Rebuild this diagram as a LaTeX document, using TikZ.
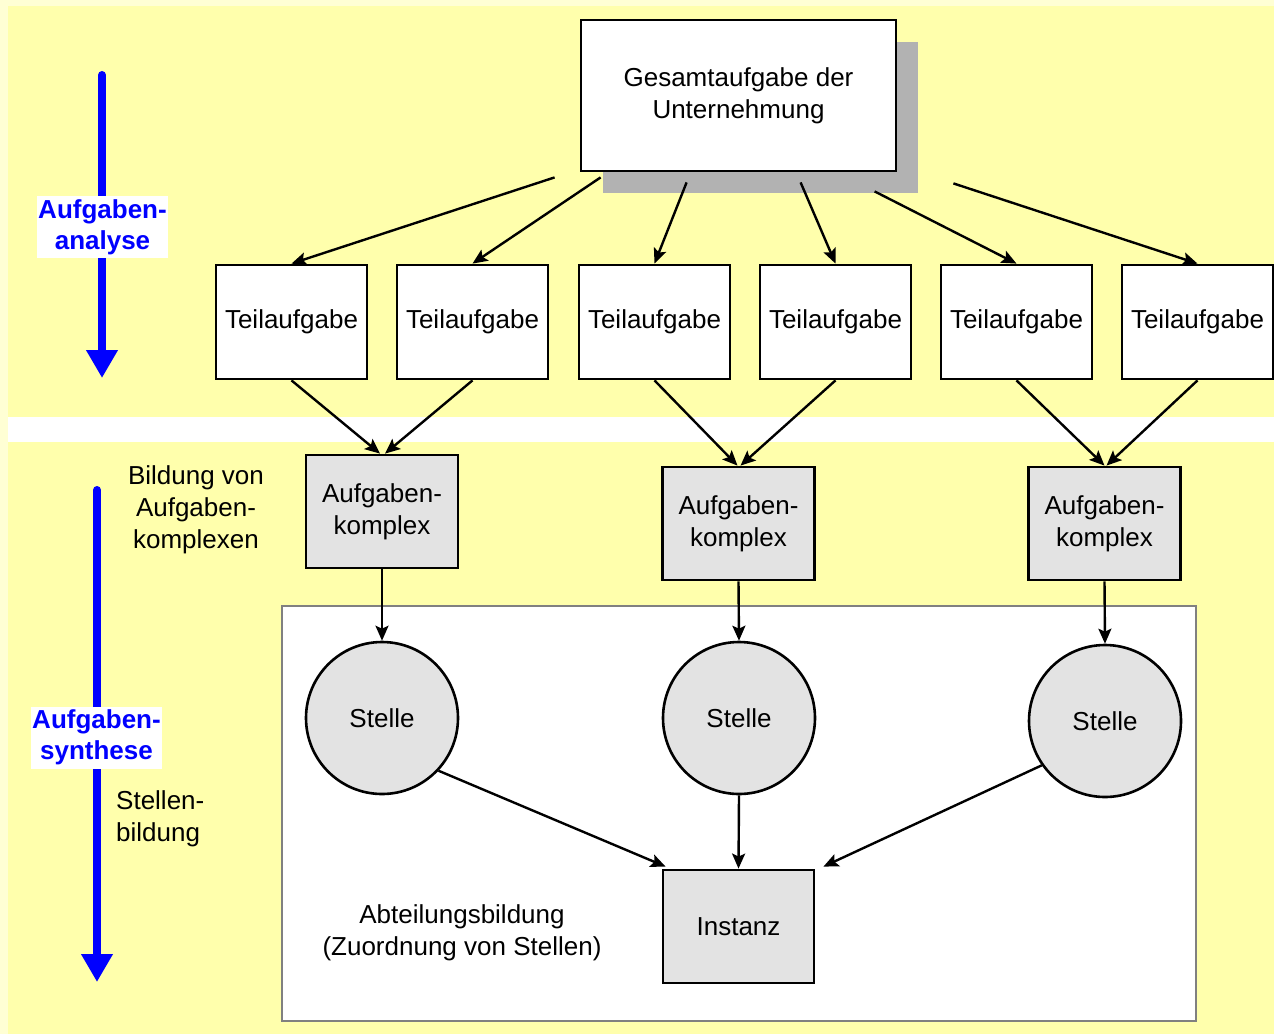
\documentclass[tikz,border=0pt]{standalone}
\usepackage{fontspec}
\setmainfont{Liberation Sans}
\usetikzlibrary{arrows.meta,calc,shadows}
\definecolor{paleyel}{RGB}{255,255,212}
\definecolor{bandyel}{RGB}{255,255,172}
\definecolor{boxgray}{RGB}{227,227,227}
\definecolor{shadowgray}{RGB}{178,178,178}
\definecolor{framegray}{RGB}{128,128,128}
\begin{document}
\begin{tikzpicture}[x=1pt,y=-1pt,
  every node/.style={font=\fontsize{26}{32}\selectfont, align=center, inner sep=0pt},
  task/.style={draw=black, line width=2.8pt, fill=white, minimum width=151pt, minimum height=114pt},
  mainbox/.style={task, minimum width=315pt, minimum height=151pt,
    drop shadow={shadow xshift=22pt, shadow yshift=-22pt, fill=shadowgray, opacity=1}},
  complexbox/.style={task, fill=boxgray, minimum width=152pt, minimum height=113pt},
  unit/.style={circle, draw=black, line width=2.6pt, fill=boxgray, minimum size=152pt},
  link/.style={draw=black, line width=2.4pt, -{Stealth[length=15pt,width=13pt,inset=3pt]}},
  phase/.style={draw=blue, line width=8pt, line cap=round, -{Triangle[length=28pt,width=30pt]}},
  phaselabel/.style={fill=white, text=blue, font=\fontsize{26}{31}\selectfont\bfseries,
    minimum width=131pt, minimum height=62pt},
]
\useasboundingbox (0,0) rectangle (1274,1034);

% background bands
\fill[paleyel] (0,0) rectangle (1274,1034);
\fill[bandyel] (8,6) rectangle (1274,417);
\fill[white] (8,417) rectangle (1274,442);
\fill[bandyel] (8,442) rectangle (1274,1034);

% frame of the department area
\draw[framegray, line width=2.2pt, fill=white] (282,606) rectangle (1196,1021);

% top level task
\node[mainbox] (top) at (738.5,95.5) {Gesamtaufgabe der\\Unternehmung};

% sub-tasks
\node[task] (t1) at (291.5,322) {Teilaufgabe};
\node[task] (t2) at (472.5,322) {Teilaufgabe};
\node[task] (t3) at (654.5,322) {Teilaufgabe};
\node[task] (t4) at (835.5,322) {Teilaufgabe};
\node[task] (t5) at (1016.5,322) {Teilaufgabe};
\node[task] (t6) at (1197.5,322) {Teilaufgabe};

% connector start points below the top box
\coordinate (o1) at ($(top.south west)+(-25,5)$);
\coordinate (o2) at ($(top.south west)+(21,5)$);
\coordinate (o3) at ($(top.south west)+(107,10)$);
\coordinate (o4) at ($(top.south west)+(221,10)$);
\coordinate (o5) at ($(top.south west)+(295,19)$);
\coordinate (o6) at ($(top.south east)+(56,11)$);

\draw[link] (o1) -- (t1.north);
\draw[link] (o2) -- (t2.north);
\draw[link] (o3) -- (t3.north);
\draw[link] (o4) -- (t4.north);
\draw[link] (o5) -- (t5.north);
\draw[link] (o6) -- (t6.north);

% task complexes
\node[complexbox] (k1) at (382,511.5) {Aufgaben-\\komplex};
\node[complexbox] (k2) at (738.5,523.5) {Aufgaben-\\komplex};
\node[complexbox] (k3) at (1104.5,523.5) {Aufgaben-\\komplex};

\draw[link] (t1.south) -- ($(k1.north)+(-2,0)$);
\draw[link] (t2.south) -- ($(k1.north)+(3,0)$);
\draw[link] (t3.south) -- ($(k2.north)+(-1,0)$);
\draw[link] (t4.south) -- ($(k2.north)+(2,0)$);
\draw[link] (t5.south) -- ($(k3.north)+(0,0)$);
\draw[link] (t6.south) -- ($(k3.north)+(2,0)$);

% positions
\node[unit] (s1) at (382,718) {Stelle};
\node[unit] (s2) at (739,718) {Stelle};
\node[unit] (s3) at (1105,721) {Stelle};

\draw[link] (k1.south) -- (s1.north);
\draw[link] (k2.south) -- (s2.north);
\draw[link] (k3.south) -- (s3.north);

% managing instance
\node[complexbox, minimum width=151pt] (inst) at (738.5,926.5) {Instanz};

\draw[link] (s1.-43) -- ($(inst.north west)+(4,-2)$);
\draw[link] (s2.south) -- (inst.north);
\draw[link] (s3.-145) -- ($(inst.north east)+(8,-2)$);

% side annotations
\node (bild) at (196,510) {Bildung von\\Aufgaben-\\komplexen};
\node[align=left, anchor=west] (stb) at (116,819) {Stellen-\\bildung};
\node (abt) at (462,933) {Abteilungsbildung\\(Zuordnung von Stellen)};

% phase arrows
\coordinate (p1s) at (102,75);
\coordinate (p1e) at (102,378);
\draw[phase] (p1s) -- (p1e);
\node[phaselabel] (ana) at (102.5,227) {Aufgaben-\\analyse};

\coordinate (p2s) at (97,490);
\coordinate (p2e) at (97,982);
\draw[phase] (p2s) -- (p2e);
\node[phaselabel] (syn) at (96.5,737.5) {Aufgaben-\\synthese};
\end{tikzpicture}
\end{document}
